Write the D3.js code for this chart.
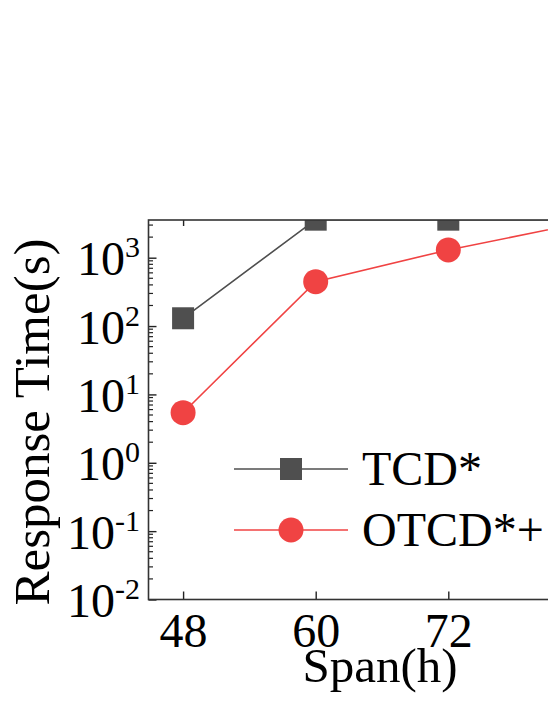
<!DOCTYPE html>
<html>
<head>
<meta charset="utf-8">
<script src="https://cdn.jsdelivr.net/npm/d3@7"></script>
<style>
  html, body { margin: 0; padding: 0; background: #fff; }
  svg { display: block; }
  svg text { font-family: "Liberation Serif", "Times New Roman", serif; }
</style>
</head>
<body>
<div id="chart"></div>
<script>
const spans = [48, 60, 72, 84];
const xTicks = [48, 60, 72];
const seriesNames = ['TCD*', 'OTCD*+'];
const tcd = [130, 3600, 3600, 3600];
const otcd = [5.4, 446, 1300, 3200];
const yTicks = [0.01, 0.1, 1, 10, 100, 1000];
const yExponents = ['-2', '-1', '0', '1', '2', '3'];

const width = 548;
const height = 709;
const plot = { left: 148.5, top: 220, right: 615.5, bottom: 599.5 };
const grey = '#4f4f4f';
const red = '#f04343';
const font = '"Liberation Serif", "Times New Roman", serif';

const svg = d3.select('#chart').append('svg').attr('width', width).attr('height', height);

const xScale = d3.scaleLinear().domain([44.87, 87.13]).range([plot.left, plot.right]);
const yScale = d3.scaleLog().domain([0.01, 3560]).range([plot.bottom, plot.top]);

svg.append('defs').append('clipPath').attr('id', 'clip')
  .append('rect')
  .attr('x', plot.left).attr('y', plot.top)
  .attr('width', plot.right - plot.left).attr('height', plot.bottom - plot.top);

// minor log ticks
const minor = [];
for (let e = -2; e < 4; e++) {
  for (let m = 2; m < 10; m++) {
    const v = m * Math.pow(10, e);
    if (v < 3560) minor.push(v);
  }
}
svg.append('g')
  .selectAll('line')
  .data(minor)
  .join('line')
  .attr('x1', plot.left).attr('x2', plot.left + 4.5)
  .attr('y1', (d) => yScale(d)).attr('y2', (d) => yScale(d))
  .attr('stroke', '#222').attr('stroke-width', 1.2);

// left axis
const yAxis = d3.axisLeft(yScale).tickValues(yTicks).tickSize(-8).tickFormat('');
const yAxisGroup = svg.append('g').attr('transform', `translate(${plot.left},0)`).call(yAxis)
  .attr('font-family', font);
yAxisGroup.select('.domain').remove();
yAxisGroup.selectAll('.tick line').attr('stroke', '#222').attr('stroke-width', 1.4);
yAxisGroup.selectAll('.tick text').remove();
yAxisGroup.selectAll('.tick')
  .append('text')
  .attr('x', -8.5)
  .attr('y', 17)
  .attr('fill', '#000')
  .attr('text-anchor', 'end')
  .each(function (d, i) {
    const t = d3.select(this);
    t.append('tspan').attr('font-size', 48).text('10');
    t.append('tspan').attr('font-size', 30).attr('dy', -18).text(yExponents[i]);
  });

// bottom axis
const xAxis = d3.axisBottom(xScale).tickValues(xTicks).tickSize(-8).tickFormat('');
const xAxisGroup = svg.append('g').attr('transform', `translate(0,${plot.bottom})`).call(xAxis)
  .attr('font-family', font);
xAxisGroup.select('.domain').remove();
xAxisGroup.selectAll('.tick line').attr('stroke', '#222').attr('stroke-width', 1.4);
xAxisGroup.selectAll('.tick text').remove();
xAxisGroup.selectAll('.tick')
  .append('text')
  .attr('y', 47.5)
  .attr('fill', '#000')
  .attr('font-size', 48)
  .attr('text-anchor', 'middle')
  .text((d) => d);

// top axis ticks
const topAxis = d3.axisTop(xScale).tickValues(xTicks).tickSize(-6).tickFormat('');
const topGroup = svg.append('g').attr('transform', `translate(0,${plot.top})`).call(topAxis);
topGroup.select('.domain').remove();
topGroup.selectAll('.tick line').attr('stroke', '#222').attr('stroke-width', 1.4);

// data
const plotArea = svg.append('g').attr('clip-path', 'url(#clip)');
const line = d3.line().x((d) => xScale(d[0])).y((d) => yScale(d[1]));

const tcdPts = spans.map((s, i) => [s, tcd[i]]);
const otcdPts = spans.map((s, i) => [s, otcd[i]]);

plotArea.append('path').datum(tcdPts).attr('d', line)
  .attr('fill', 'none').attr('stroke', grey).attr('stroke-width', 1.6);
plotArea.append('path').datum(otcdPts).attr('d', line)
  .attr('fill', 'none').attr('stroke', red).attr('stroke-width', 1.6);

plotArea.selectAll('rect.tcd')
  .data(tcdPts)
  .join('rect')
  .attr('class', 'tcd')
  .attr('x', (d) => xScale(d[0]) - 11)
  .attr('y', (d) => yScale(d[1]) - 11)
  .attr('width', 22).attr('height', 22)
  .attr('fill', grey);

plotArea.selectAll('circle.otcd')
  .data(otcdPts)
  .join('circle')
  .attr('class', 'otcd')
  .attr('cx', (d) => xScale(d[0]))
  .attr('cy', (d) => yScale(d[1]))
  .attr('r', 12.5)
  .attr('fill', red);

// frame
svg.append('rect')
  .attr('x', plot.left).attr('y', plot.top)
  .attr('width', plot.right - plot.left).attr('height', plot.bottom - plot.top)
  .attr('fill', 'none').attr('stroke', '#333').attr('stroke-width', 1.6);

// axis titles
svg.append('text')
  .attr('x', 380)
  .attr('y', 682)
  .attr('text-anchor', 'middle')
  .attr('font-size', 49)
  .attr('fill', '#000')
  .text('Span(h)');

svg.append('text')
  .attr('transform', 'translate(49,422) rotate(-90)')
  .attr('text-anchor', 'middle')
  .attr('font-size', 51)
  .attr('fill', '#000')
  .text('Response Time(s)');

// legend
const legend = svg.append('g');
const legendY = [469, 530];
const colors = [grey, red];
seriesNames.forEach((name, i) => {
  const g = legend.append('g').attr('transform', `translate(0,${legendY[i]})`);
  g.append('line').attr('x1', 234).attr('x2', 348).attr('y1', 0).attr('y2', 0)
    .attr('stroke', colors[i]).attr('stroke-width', 1.6);
  if (i === 0) {
    g.append('rect').attr('x', 291 - 11).attr('y', -11).attr('width', 22).attr('height', 22).attr('fill', grey);
  } else {
    g.append('circle').attr('cx', 291).attr('cy', 0).attr('r', 12.5).attr('fill', red);
  }
  g.append('text').attr('x', 362).attr('y', 16).attr('font-size', 48).attr('fill', '#000').text(name);
});
</script>
</body>
</html>
